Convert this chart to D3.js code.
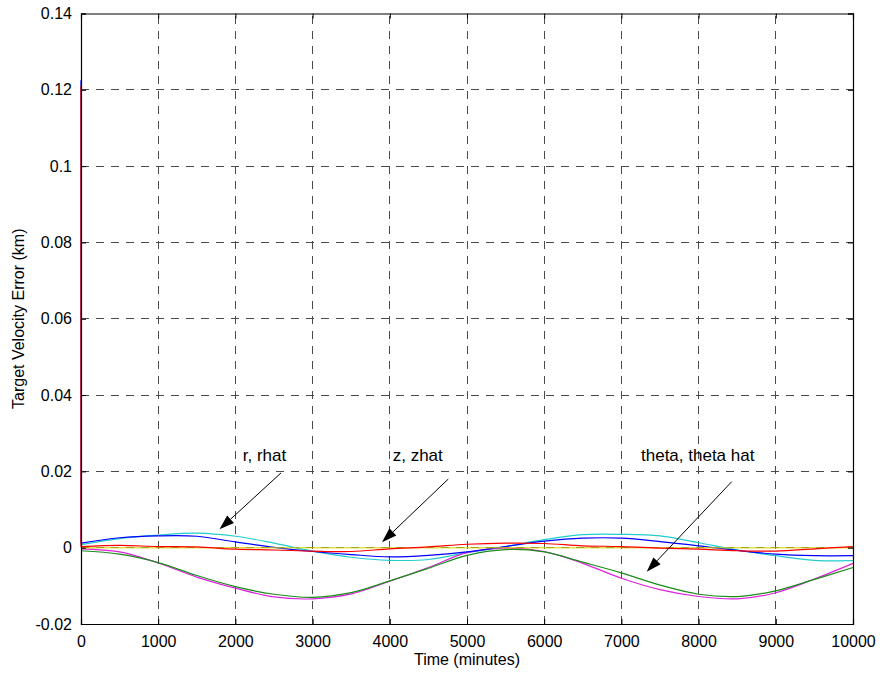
<!DOCTYPE html>
<html>
<head>
<meta charset="utf-8">
<script src="https://cdn.jsdelivr.net/npm/d3@7"></script>
<style>
  html, body { margin: 0; padding: 0; background: #fff; }
  svg { display: block; font-family: "Liberation Sans", Arial, sans-serif; }
</style>
</head>
<body>
<svg id="chart" width="881" height="675"></svg>
<script>
// ---- data ----
const times = [0, 500, 1000, 1500, 2000, 2500, 3000, 3500, 4000, 4500, 5000,
               5500, 6000, 6500, 7000, 7500, 8000, 8500, 9000, 9500, 10000];

const r      = [0.0012, 0.0026, 0.0031, 0.0030, 0.0015, 0.0001, -0.0010, -0.0018, -0.0024, -0.0020, -0.0011,
                0.0003, 0.0017, 0.0025, 0.0025, 0.0016, 0.0005, -0.0007, -0.0017, -0.0021, -0.0021];
const rhat   = [0.0008, 0.0024, 0.0033, 0.0038, 0.0030, 0.0012, -0.0009, -0.0025, -0.0033, -0.0031, -0.0013,
                0.0003, 0.0021, 0.0034, 0.0035, 0.0031, 0.0013, -0.0006, -0.0021, -0.0033, -0.0034];
const z      = [0.0003, 0.0006, 0.0003, 0.0002, -0.0004, -0.0006, -0.0009, -0.0010, -0.0003, 0.0002, 0.0009,
                0.0012, 0.0011, 0.0005, 0.0003, -0.0001, -0.0004, -0.0008, -0.0009, -0.0003, 0.0003];
const zhat   = [0, 0, 0, 0, 0, 0, 0, 0, 0, 0, 0, 0, 0, 0, 0, 0, 0, 0, 0, 0, 0];
const theta  = [-0.0008, -0.0017, -0.0039, -0.0073, -0.0102, -0.0122, -0.0130, -0.0118, -0.0087, -0.0054, -0.0020,
                -0.0005, -0.0011, -0.0038, -0.0066, -0.0098, -0.0122, -0.0128, -0.0113, -0.0083, -0.0052];
const thetahat = [-0.0003, -0.0011, -0.0040, -0.0077, -0.0106, -0.0129, -0.0134, -0.0121, -0.0088, -0.0052, -0.0013,
                -0.0001, -0.0010, -0.0041, -0.0080, -0.0110, -0.0128, -0.0134, -0.0118, -0.0082, -0.0041];

// initial transient at t = 0
const rStart = 0.1225;
const zStart = 0.1210;

const xTicks = [0, 1000, 2000, 3000, 4000, 5000, 6000, 7000, 8000, 9000, 10000];
const yTicks = [-0.02, 0, 0.02, 0.04, 0.06, 0.08, 0.1, 0.12, 0.14];

const annotations = [
  { label: "r, rhat",          tx: 2095, ty: 0.0228, x0: 2591, y0: 0.0196, x1: 1794, y1: 0.0048 },
  { label: "z, zhat",          tx: 4038, ty: 0.0228, x0: 4758, y0: 0.0180, x1: 3899, y1: 0.0014 },
  { label: "theta, theta hat", tx: 7254, ty: 0.0227, x0: 8429, y0: 0.0173, x1: 7328, y1: -0.0063 }
];

// ---- layout ----
const svg = d3.select("#chart");
const L = 81, T = 13.5, R = 853, B = 624;
const x = d3.scaleLinear().domain([0, 10000]).range([L, R]);
const y = d3.scaleLinear().domain([-0.02, 0.14]).range([B, T]);

// grid
const grid = svg.append("g").attr("stroke", "#4a4a4a").attr("stroke-width", 1)
  .attr("stroke-dasharray", "8,7").attr("shape-rendering", "crispEdges");
xTicks.slice(1, -1).forEach(t => {
  grid.append("line").attr("x1", x(t)).attr("x2", x(t)).attr("y1", B).attr("y2", T);
});
yTicks.slice(1, -1).forEach(v => {
  grid.append("line").attr("y1", y(v)).attr("y2", y(v)).attr("x1", L).attr("x2", R);
});

// series
const mk = (vals, start) => {
  const pts = times.map((t, i) => [t, vals[i]]);
  if (start !== undefined) pts.unshift([0, start]);
  return pts;
};
const series = [
  { pts: mk(rhat),          color: "#22cccc", w: 1.2 },
  { pts: mk(thetahat),      color: "#dd22dd", w: 1.2 },
  { pts: mk(r, rStart),     color: "#0000ff", w: 1.2 },
  { pts: mk(theta),         color: "#1a8c1a", w: 1.2 },
  { pts: mk(zhat),          color: "#d2d200", w: 1.6, opacity: 0.7 },
  { pts: mk(z, zStart),     color: "#ff0000", w: 1.2 }
];
const line = d3.line().x(d => x(d[0])).y(d => y(d[1])).curve(d3.curveCatmullRom.alpha(0.5));
const lineStraight = d3.line().x(d => x(d[0])).y(d => y(d[1]));
series.forEach(s => {
  const spike = s.pts.length > times.length;
  const path = spike
    ? lineStraight(s.pts.slice(0, 2)) + line(s.pts.slice(1)).replace(/^M/, "L")
    : line(s.pts);
  svg.append("path").attr("d", path).attr("fill", "none")
    .attr("stroke", s.color).attr("stroke-width", s.w)
    .attr("stroke-opacity", s.opacity || 1);
});

// axes box with inward ticks on all sides
const axes = svg.append("g");
const axB = d3.axisBottom(x).tickValues(xTicks).tickSize(-5).tickPadding(12).tickFormat(d3.format("d"));
const axT = d3.axisTop(x).tickValues(xTicks).tickSize(-5).tickFormat("");
const fmtY = d => d === 0 ? "0" : String(+d.toFixed(2));
const axL = d3.axisLeft(y).tickValues(yTicks).tickSize(-5).tickPadding(9).tickFormat(fmtY);
const axR = d3.axisRight(y).tickValues(yTicks).tickSize(-5).tickFormat("");
[[axB, `translate(0,${B})`], [axT, `translate(0,${T})`], [axL, `translate(${L},0)`], [axR, `translate(${R},0)`]]
  .forEach(([a, tr]) => {
    const g = axes.append("g").attr("transform", tr).call(a);
    g.selectAll("path.domain").attr("stroke", "#000").attr("stroke-width", 1.2);
    g.selectAll(".tick line").attr("stroke", "#000");
    g.selectAll("text").attr("font-size", 16).attr("fill", "#000")
      .attr("font-family", "Liberation Sans, Arial, sans-serif");
  });

// axis labels
svg.append("text").attr("x", (L + R) / 2).attr("y", 665).attr("text-anchor", "middle")
  .attr("font-size", 16).text("Time (minutes)");
svg.append("text").attr("transform", `translate(24,${(T + B) / 2}) rotate(-90)`)
  .attr("text-anchor", "middle").attr("font-size", 16).text("Target Velocity Error (km)");

// annotations
const ann = svg.append("g");
annotations.forEach(a => {
  ann.append("text").attr("x", x(a.tx)).attr("y", y(a.ty)).attr("font-size", 17).text(a.label);
  const X0 = x(a.x0), Y0 = y(a.y0), X1 = x(a.x1), Y1 = y(a.y1);
  const ang = Math.atan2(Y1 - Y0, X1 - X0);
  const hl = 15, hw = 5;
  const bx = X1 - hl * Math.cos(ang), by = Y1 - hl * Math.sin(ang);
  ann.append("line").attr("x1", X0).attr("y1", Y0).attr("x2", bx).attr("y2", by)
    .attr("stroke", "#000").attr("stroke-width", 1);
  const p1 = [bx + hw * Math.sin(ang), by - hw * Math.cos(ang)];
  const p2 = [bx - hw * Math.sin(ang), by + hw * Math.cos(ang)];
  ann.append("path").attr("d", `M${X1},${Y1}L${p1[0]},${p1[1]}L${p2[0]},${p2[1]}Z`).attr("fill", "#000");
});
</script>
</body>
</html>
